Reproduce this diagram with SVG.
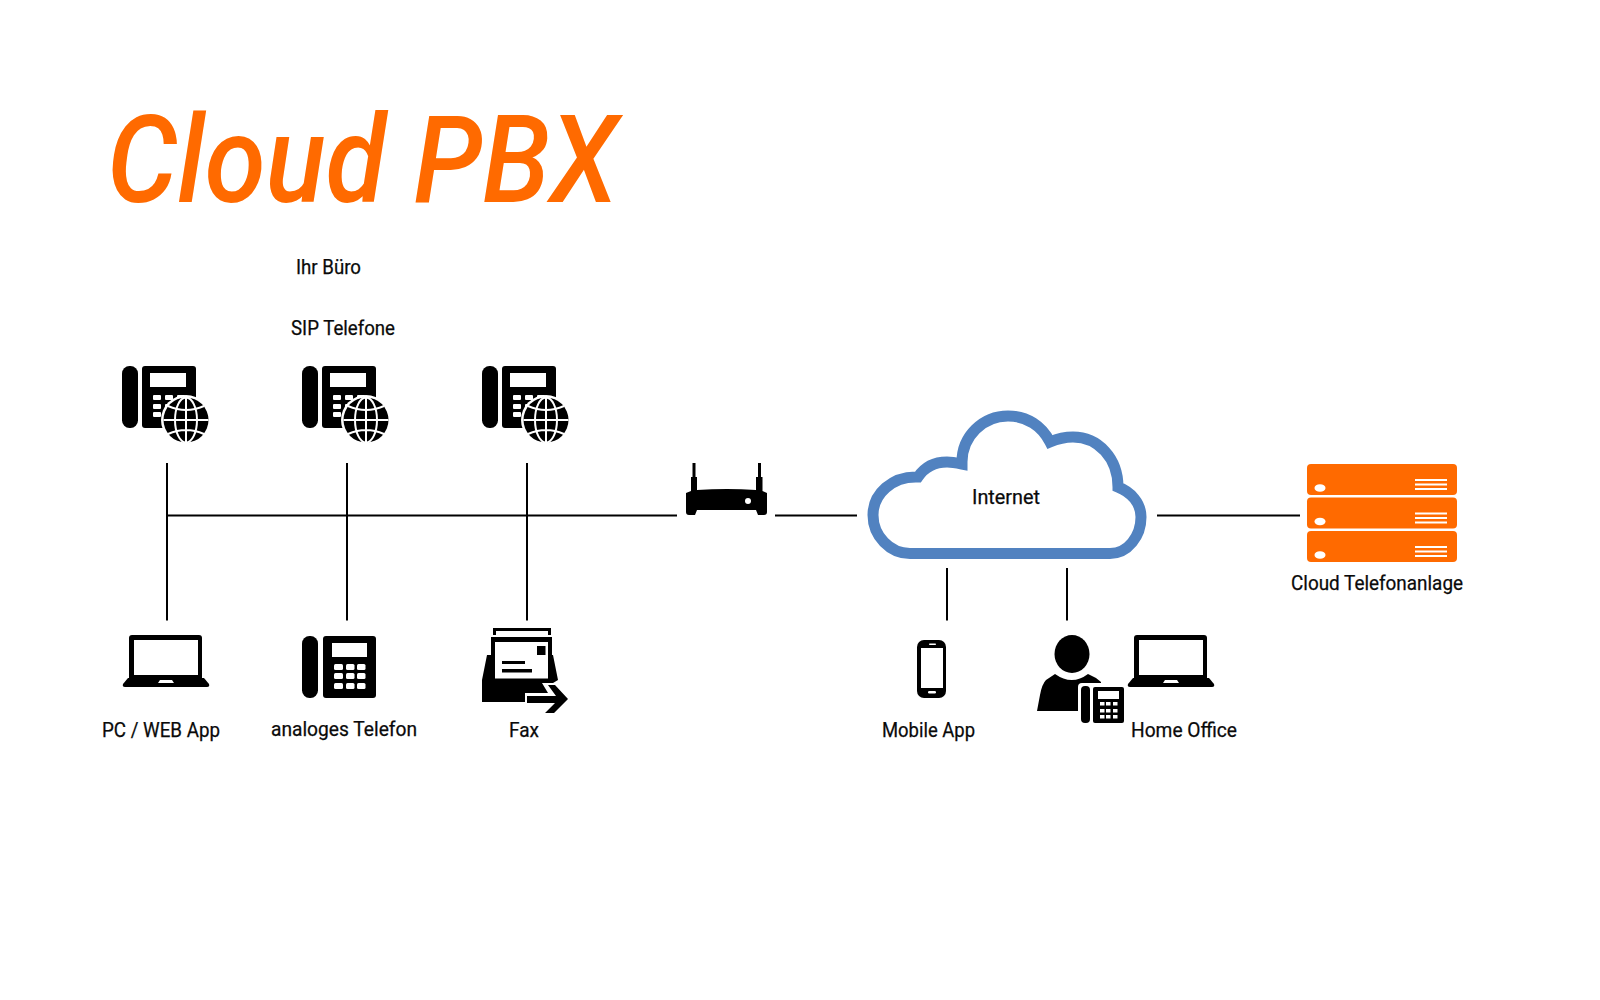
<svg xmlns="http://www.w3.org/2000/svg" xmlns:xlink="http://www.w3.org/1999/xlink" width="1600" height="1000" viewBox="0 0 1600 1000">
<style>
text{font-family:"Roboto","Liberation Sans",sans-serif;fill:#0a0a0a;font-size:20px;font-weight:400;stroke:#0a0a0a;stroke-width:.25}
.title{font-size:122px;font-style:italic;font-weight:500;fill:#ff6a00;stroke:none}
.link{stroke:#000;stroke-width:2;fill:none}
.w{fill:#fff}
.wl{stroke:#fff;fill:none}
.org{fill:#ff6a00}
</style>
<defs>
<g id="keys3">
<rect x="334" y="664" width="9" height="6" rx="1.500"/><rect x="346" y="664" width="8.500" height="6" rx="1.500"/><rect x="357" y="664" width="8.500" height="6" rx="1.500"/>
<rect x="334" y="673" width="9" height="6" rx="1.500"/><rect x="346" y="673" width="8.500" height="6" rx="1.500"/><rect x="357" y="673" width="8.500" height="6" rx="1.500"/>
<rect x="334" y="683" width="9" height="6" rx="1.500"/><rect x="346" y="683" width="8.500" height="6" rx="1.500"/><rect x="357" y="683" width="8.500" height="6" rx="1.500"/>
</g>
<!-- desk phone, drawn at the analogue phone's position -->
<g id="phone">
<rect x="302" y="636" width="16" height="62" rx="7.500"/>
<rect x="323" y="636" width="53" height="62" rx="3"/>
<rect class="w" x="332" y="643" width="35" height="14"/>
<g class="w"><use href="#keys3"/></g>
</g>
<!-- SIP phone: desk phone with a globe, origin at the first phone -->
<g id="sipphone">
<rect x="122" y="366" width="16" height="62" rx="7.500"/>
<rect x="142" y="366" width="54" height="62" rx="3"/>
<rect class="w" x="150" y="373" width="36" height="14"/>
<g class="w">
<rect x="153" y="395" width="8" height="5" rx="1"/><rect x="165" y="395" width="8" height="5" rx="1"/><rect x="177" y="395" width="8" height="5" rx="1"/>
<rect x="153" y="404" width="8" height="5" rx="1"/><rect x="165" y="404" width="8" height="5" rx="1"/>
<rect x="153" y="412" width="8" height="5" rx="1"/>
</g>
<circle class="w" cx="186" cy="420" r="25"/>
<circle cx="186" cy="420" r="22.500"/>
<g class="wl" stroke-width="2">
<ellipse cx="186" cy="420" rx="11" ry="22.500"/>
<path d="M186 397V443M163.500 420H208.500M168 406Q186 414 204 406M168 434Q186 426 204 434"/>
</g>
</g>
<g id="laptop">
<path d="M129 678V638a3 3 0 0 1 3-3H199a3 3 0 0 1 3 3V678Z"/>
<rect class="w" x="134" y="640" width="64" height="35"/>
<path d="M128 678H204L209 684Q210 687 207 687H125Q122 687 123 684Z"/>
<path class="w" d="M160 680H172L174 683H158Z"/>
</g>
<g id="serverunit">
<rect class="org" x="1307" y="464" width="150" height="31" rx="4"/>
<ellipse class="w" cx="1320" cy="488" rx="5.500" ry="3.800"/>
<path class="wl" stroke-width="1.800" d="M1415 480H1447M1415 484.500H1447M1415 489H1447"/>
</g>
</defs>

<text class="title" x="107" y="202" textLength="511" lengthAdjust="spacingAndGlyphs">Cloud PBX</text>

<g id="connectors" class="link">
<path d="M167 463V620.500M347 463V620.500M527 463V620.500"/>
<path d="M167 515.500H677M775 515.500H857M1157 515.500H1300"/>
<path d="M947 568V620.500M1067 568V620.500"/>
</g>

<g id="label-office"><text x="296" y="274" textLength="65" lengthAdjust="spacingAndGlyphs">Ihr Büro</text></g>
<g id="label-sip"><text x="291" y="335" textLength="104" lengthAdjust="spacingAndGlyphs">SIP Telefone</text></g>

<g id="sip-phone-1"><use href="#sipphone"/></g>
<g id="sip-phone-2"><use href="#sipphone" x="180"/></g>
<g id="sip-phone-3"><use href="#sipphone" x="360"/></g>

<g id="pc-app"><use href="#laptop"/><text x="102" y="737" textLength="118" lengthAdjust="spacingAndGlyphs">PC / WEB App</text></g>

<g id="analog-phone"><use href="#phone"/><text x="271" y="736" textLength="146" lengthAdjust="spacingAndGlyphs">analoges Telefon</text></g>

<g id="fax">
<path d="M493 635V628H551V635H548V631H496V635Z"/>
<path d="M487 655L482 680V702H525V693H548L542 683H553L558 680L553 655Z"/>
<rect x="491" y="637" width="61" height="43"/>
<rect class="w" x="495" y="642" width="53" height="36.500"/>
<rect x="537" y="646" width="8.500" height="9"/>
<rect x="502" y="661" width="23" height="3"/>
<rect x="502" y="669" width="30" height="3.500"/>
<path d="M527 696H556L548 685H555L568 699L554 713H545L555 703H527Z"/>
<text x="509" y="737" textLength="30" lengthAdjust="spacingAndGlyphs">Fax</text>
</g>

<g id="router">
<path d="M692.500 463H695.500V477H697V490Q727 488 756 490V477H758V463H761V477H762.500V491L767 493V512Q767 515 764 515H758L756 510H697L695 515H689Q686 515 686 512V493L691 491V477H692.500Z"/>
<circle class="w" cx="748" cy="501" r="3"/>
</g>

<g id="internet">
<path fill="#fff" stroke="#5182c0" stroke-width="11" stroke-miterlimit="8" d="M910 553.500H1110C1128 553.500 1141 536 1141 517C1141 503 1131 492 1118 487C1118 458 1098 437 1073 437C1065 437 1057 439 1050 442C1042 426 1027 416 1008 416C983 416 962 436 962 462V464C957 463 952 462 947 462C934 462 924 468 918 477C892 476 873 494 873 515C873 536 890 553.500 910 553.500Z"/>
<text x="972" y="504" textLength="68" lengthAdjust="spacingAndGlyphs">Internet</text>
</g>

<g id="cloud-pbx">
<use href="#serverunit"/>
<use href="#serverunit" y="33.500"/>
<use href="#serverunit" y="67"/>
<text x="1291" y="590" textLength="172" lengthAdjust="spacingAndGlyphs">Cloud Telefonanlage</text>
</g>

<g id="mobile-app">
<rect x="917" y="640" width="29" height="58" rx="7"/>
<rect class="w" x="921" y="648" width="22" height="40"/>
<rect class="w" x="929" y="643.500" width="7" height="1.500" rx="0.700"/>
<rect class="w" x="928" y="691" width="8" height="2.500" rx="1.200"/>
<text x="882" y="737" textLength="93" lengthAdjust="spacingAndGlyphs">Mobile App</text>
</g>

<g id="home-office">
<ellipse cx="1072" cy="654" rx="17.500" ry="19"/>
<path d="M1037 711L1040 695Q1042 684 1046 680L1055 674Q1072 686 1088 674L1096 678L1101 682V711Z"/>
<rect class="w" x="1078" y="683" width="50" height="43" rx="4"/>
<rect x="1081" y="686" width="9" height="37" rx="4"/>
<rect x="1093" y="687" width="31" height="36" rx="2"/>
<rect class="w" x="1098" y="691" width="21" height="8"/>
<g class="w">
<rect x="1100" y="702" width="4.500" height="3.500"/><rect x="1106" y="702" width="4.500" height="3.500"/><rect x="1113" y="702" width="4.500" height="3.500"/>
<rect x="1100" y="709" width="4.500" height="3.500"/><rect x="1106" y="709" width="4.500" height="3.500"/><rect x="1113" y="709" width="4.500" height="3.500"/>
<rect x="1100" y="715" width="4.500" height="3.500"/><rect x="1106" y="715" width="4.500" height="3.500"/><rect x="1113" y="715" width="4.500" height="3.500"/>
</g>
<use href="#laptop" x="1005"/>
<text x="1131" y="737" textLength="106" lengthAdjust="spacingAndGlyphs">Home Office</text>
</g>
</svg>
